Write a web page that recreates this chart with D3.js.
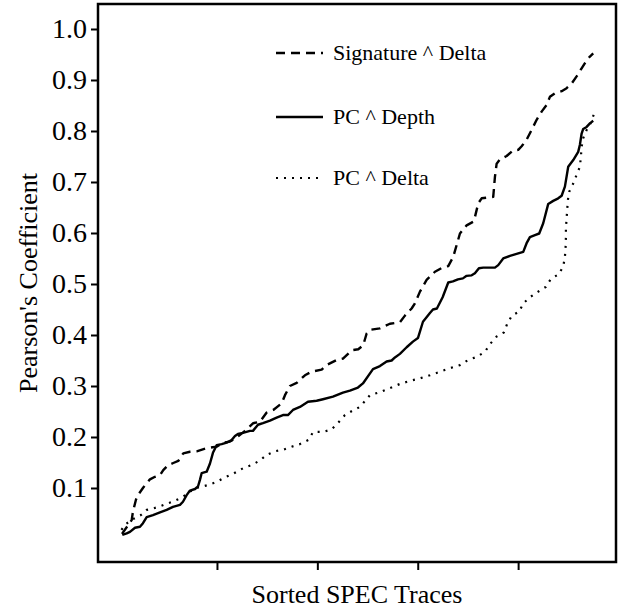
<!DOCTYPE html>
<html>
<head>
<meta charset="utf-8">
<script src="https://cdn.jsdelivr.net/npm/d3@7"></script>
<style>
  html, body { margin: 0; padding: 0; background: #fff; }
  svg { display: block; }
  text { font-family: "Liberation Serif", "Times New Roman", serif; fill: #000; }
</style>
</head>
<body>
<svg id="chart" width="620" height="611"></svg>
<script>
// ---- data (trace rank, Pearson's coefficient) ----
const sigDeltaX = [1.08,3.01,3.27,3.86,4.26,5.32,6.0,6.65,7.65,8.65,9.3,10.3,11.3,12.29,13.29,14.62,15.96,17.95,19.94,21.25,22.59,23.92,25.58,27.23,28.57,29.9,31.22,32.89,33.55,34.54,35.88,37.53,38.86,40.86,41.85,43.84,45.16,46.83,48.15,49.14,49.82,50.48,52.47,54.46,56.45,57.45,58.78,59.44,60.44,61.77,63.43,65.08,66.08,67.07,68.41,69.74,71.06,71.39,72.05,72.73,75.04,75.38,75.72,76.37,77.71,79.02,80.02,80.7,81.69,82.69,83.69,84.68,85.68,86.33,87.33,88.67,89.66,90.66,91.65,92.65,93.5,94.3,94.96];
const sigDeltaY = [0.010,0.037,0.054,0.077,0.086,0.101,0.109,0.117,0.122,0.125,0.135,0.145,0.149,0.153,0.168,0.171,0.172,0.178,0.181,0.189,0.191,0.199,0.212,0.227,0.230,0.248,0.253,0.266,0.282,0.300,0.306,0.321,0.328,0.332,0.341,0.351,0.354,0.370,0.372,0.380,0.403,0.410,0.413,0.422,0.425,0.438,0.452,0.462,0.485,0.508,0.524,0.533,0.535,0.553,0.599,0.615,0.622,0.631,0.658,0.668,0.671,0.710,0.736,0.744,0.751,0.762,0.763,0.770,0.783,0.802,0.822,0.838,0.851,0.867,0.874,0.878,0.884,0.893,0.907,0.923,0.936,0.946,0.952];

const pcDepthX = [1.14,2.01,2.67,3.67,4.66,5.26,6.0,7.25,8.65,9.98,11.24,12.63,13.23,13.96,14.62,15.62,16.22,16.61,16.95,17.95,18.61,19.2,19.94,20.94,21.93,22.93,23.59,24.18,25.18,26.57,27.17,28.17,29.16,30.56,31.89,33.15,34.14,35.14,36.53,38.13,39.86,41.12,43.11,45.1,46.49,48.09,49.08,51.08,52.47,53.8,54.8,55.46,56.45,57.79,59.04,60.04,61.04,62.43,63.03,63.82,64.96,66.08,67.01,68.01,69.0,69.74,70.74,71.39,72.19,73.05,74.38,75.38,76.04,77.03,78.37,79.7,81.02,81.69,82.35,83.35,84.2,85.0,86.0,86.99,87.99,88.67,89.32,89.98,90.98,91.97,92.31,92.65,92.97,93.65,94.3,94.96];
const pcDepthY = [0.008,0.011,0.014,0.022,0.024,0.031,0.043,0.047,0.052,0.057,0.063,0.067,0.073,0.086,0.095,0.098,0.103,0.116,0.129,0.132,0.148,0.169,0.184,0.186,0.189,0.194,0.202,0.206,0.208,0.212,0.212,0.224,0.227,0.232,0.238,0.243,0.243,0.253,0.259,0.269,0.271,0.274,0.279,0.287,0.291,0.297,0.305,0.333,0.339,0.348,0.350,0.356,0.363,0.376,0.387,0.394,0.426,0.443,0.450,0.452,0.474,0.503,0.505,0.509,0.511,0.516,0.517,0.521,0.531,0.532,0.532,0.532,0.537,0.550,0.555,0.559,0.563,0.580,0.592,0.596,0.599,0.619,0.657,0.663,0.668,0.673,0.691,0.730,0.743,0.759,0.773,0.795,0.804,0.808,0.815,0.820];

const pcDeltaX = [0.98,1.67,3.27,4.86,6.0,7.31,8.65,9.98,11.63,13.29,14.62,16.27,18.27,19.94,21.59,23.25,25.24,26.91,28.57,29.9,31.55,33.21,34.88,36.53,38.19,39.18,41.18,42.85,44.16,45.5,46.9,48.49,50.48,52.47,54.46,56.45,58.45,60.44,62.43,64.42,66.41,68.41,70.06,71.73,73.39,74.38,75.72,77.17,77.83,78.76,80.22,81.02,82.49,84.0,85.48,86.53,88.06,88.98,89.32,89.46,89.52,89.52,89.66,89.78,89.92,90.18,90.98,91.65,92.31,92.51,92.65,92.97,93.65,94.3,95.1];
const pcDeltaY = [0.018,0.028,0.039,0.047,0.057,0.060,0.064,0.069,0.075,0.083,0.093,0.101,0.106,0.112,0.121,0.128,0.139,0.145,0.154,0.165,0.172,0.175,0.181,0.186,0.194,0.210,0.210,0.215,0.228,0.243,0.251,0.259,0.282,0.288,0.296,0.304,0.310,0.315,0.321,0.328,0.335,0.341,0.351,0.357,0.367,0.382,0.397,0.405,0.422,0.438,0.446,0.462,0.475,0.485,0.494,0.510,0.519,0.534,0.553,0.573,0.592,0.609,0.629,0.646,0.665,0.681,0.697,0.714,0.730,0.750,0.769,0.786,0.802,0.812,0.833];

const seriesNames = ["Signature ^ Delta", "PC ^ Depth", "PC ^ Delta"];
const yTicks = [0.1,0.2,0.3,0.4,0.5,0.6,0.7,0.8,0.9,1.0];
const xTicks = [20,40,60,80];
const xLabel = "Sorted SPEC Traces";
const yLabel = "Pearson's Coefficient";

// ---- layout ----
const svg = d3.select("#chart");
const L = 98, R = 616, T = 4, B = 562;

const x = d3.scaleLinear().domain([-3.7, 99.5]).range([L, R]);
const y = d3.scaleLinear().domain([-0.0451, 1.049]).range([B, T]);

const styles = [
  { dash: "9,6", width: 2.4 },
  { dash: null, width: 2.4 },
  { dash: "2,6", width: 2.2 }
];
const series = [
  { name: seriesNames[0], xs: sigDeltaX, ys: sigDeltaY },
  { name: seriesNames[1], xs: pcDepthX, ys: pcDepthY },
  { name: seriesNames[2], xs: pcDeltaX, ys: pcDeltaY }
];

const line = d3.line().x(d => x(d[0])).y(d => y(d[1]));

series.forEach((s, i) => {
  const pts = s.xs.map((v, k) => [v, s.ys[k]]);
  svg.append("path")
    .datum(pts)
    .attr("d", line)
    .attr("fill", "none")
    .attr("stroke", "#000")
    .attr("stroke-width", styles[i].width)
    .attr("stroke-linejoin", "round")
    .attr("stroke-dasharray", styles[i].dash);
});

// axes
const yAxis = d3.axisLeft(y).tickValues(yTicks).tickFormat(d3.format(".1f")).tickSize(7).tickPadding(4);
const gy = svg.append("g").attr("transform", `translate(${L},0)`).call(yAxis);
gy.select(".domain").remove();
gy.selectAll(".tick line").attr("stroke", "#000").attr("stroke-width", 2);
gy.selectAll(".tick text").style("font-family", "'Liberation Serif', serif").style("font-size", "28px").attr("fill", "#000");

const xAxis = d3.axisBottom(x).tickValues(xTicks).tickFormat("").tickSize(8);
const gx = svg.append("g").attr("transform", `translate(0,${B})`).call(xAxis);
gx.select(".domain").remove();
gx.selectAll(".tick line").attr("stroke", "#000").attr("stroke-width", 2);

// frame
svg.append("rect")
  .attr("x", L).attr("y", T)
  .attr("width", R - L).attr("height", B - T)
  .attr("fill", "none").attr("stroke", "#000").attr("stroke-width", 2.5);

// axis labels
svg.append("text")
  .attr("x", (L + R) / 2).attr("y", 603)
  .attr("text-anchor", "middle")
  .style("font-size", "26px")
  .text(xLabel);

svg.append("text")
  .attr("transform", `translate(37,${(T + B) / 2}) rotate(-90)`)
  .attr("text-anchor", "middle")
  .style("font-size", "26px")
  .text(yLabel);

// legend
const legendY = [53, 117, 178];
series.forEach((s, i) => {
  svg.append("line")
    .attr("x1", 276).attr("x2", 323)
    .attr("y1", legendY[i]).attr("y2", legendY[i])
    .attr("stroke", "#000")
    .attr("stroke-width", styles[i].width)
    .attr("stroke-dasharray", styles[i].dash);
  svg.append("text")
    .attr("x", 333).attr("y", legendY[i])
    .attr("dy", "0.33em")
    .style("font-size", "22px")
    .text(s.name);
});
</script>
</body>
</html>
